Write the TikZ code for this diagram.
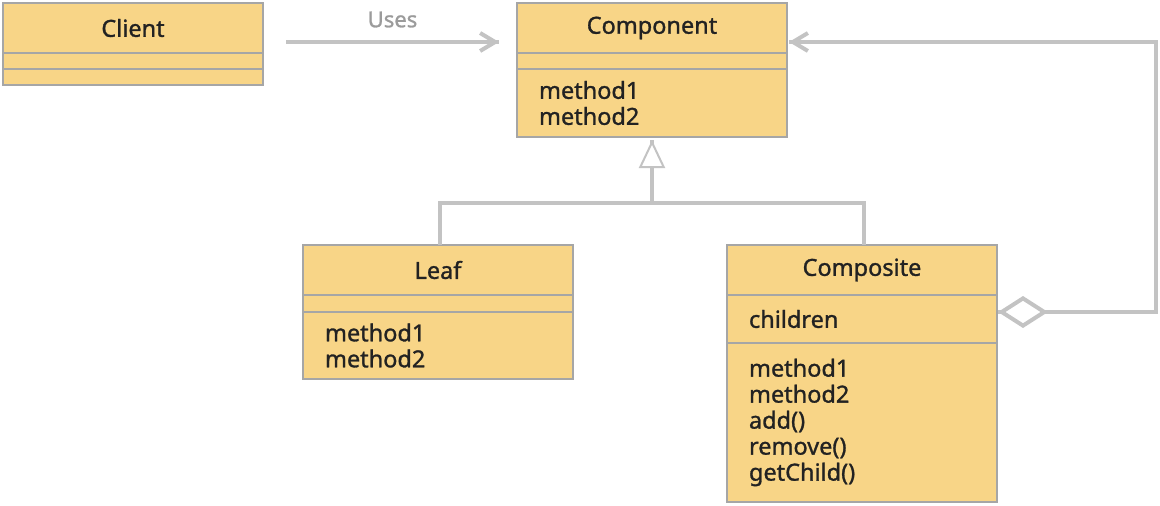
\documentclass[tikz,border=0pt]{standalone}
\usepackage{fontspec}
\setmainfont{Noto Sans}[FakeBold=1.2,UprightFeatures={FakeBold=1.2}]
\usetikzlibrary{arrows.meta,decorations.markings,positioning}
\definecolor{boxfill}{HTML}{F8D587}
\definecolor{boxline}{HTML}{A6A6A6}
\definecolor{linkgray}{HTML}{C3C3C3}
\definecolor{textdark}{HTML}{222222}
\definecolor{labelgray}{HTML}{9B9B9B}

\begin{document}
\begin{tikzpicture}[x=1pt,y=-1pt,
  part/.style={draw=boxline,fill=boxfill,line width=1.5pt,rectangle,outer sep=0pt,
    inner xsep=22pt,inner ysep=0pt,minimum width=270pt,text width=226pt,
    text=textdark,font=\fontsize{23.5}{26}\selectfont},
  head/.style={part,align=center,anchor=north west,minimum height=50pt},
  body/.style={part,align=left,below=0pt of #1},
  narrow/.style={minimum width=260pt,text width=216pt},
  link/.style={draw=linkgray,line width=4pt},
  uses/.style={link,decoration={markings,mark=at position 1 with
    {\arrow{Straight Barb[length=15pt,width=18pt]}}},postaction={decorate}},
  inherit/.style={link,decoration={markings,mark=at position 1 with
    {\arrow{Triangle[fill=white,length=28pt,width=26pt,line width=2pt]}}},postaction={decorate}},
  aggregate/.style={link,decoration={markings,mark=at position 0 with
    {\arrowreversed{Diamond[fill=white,length=50pt,width=32pt]}},mark=at position 1 with
    {\arrow{Straight Barb[length=15pt,width=18pt]}}},postaction={decorate}}
]
\useasboundingbox (0,0) rectangle (1160,506);

\node[head,narrow] (client) at (3,3) {Client};
\node[body=client,narrow,minimum height=16pt] (clientA) {};
\node[body=clientA,narrow,minimum height=16pt] (clientM) {};

\node[head] (component) at (517,3) {Component};
\node[body=component,minimum height=16pt] (componentA) {};
\node[body=componentA,minimum height=68pt] (componentM) {method1\\method2};

\node[head] (leaf) at (303,245) {Leaf};
\node[body=leaf,minimum height=17pt] (leafA) {};
\node[body=leafA,minimum height=67pt] (leafM) {method1\\method2};

\node[head] (composite) at (727,245) {Composite};
\node[body=composite,minimum height=48pt] (compositeA) {children};
\node[body=compositeA,minimum height=159pt] (compositeM) {method1\\method2\\add()\\remove()\\getChild()};

\coordinate (fork) at ([yshift=-66pt]componentM.south);

\draw[uses] ([xshift=23pt,yshift=-39pt]client.north east) -- node[midway,above=12.5pt,inner sep=0pt,
    text=labelgray,font=\fontsize{22}{26}\selectfont] (usesLabel) {Uses} ([xshift=-18pt,yshift=-39pt]component.north west);
\draw[link] ([xshift=2pt]composite.north) |- (fork);
\draw[inherit] ([xshift=2pt]leaf.north) |- (fork) -- ([yshift=-3pt]componentM.south);
\draw[aggregate] ([xshift=1pt,yshift=7pt]compositeA.east) -- ++(158,0) |- ([xshift=2pt,yshift=-39pt]component.north east);
\end{tikzpicture}
\end{document}
